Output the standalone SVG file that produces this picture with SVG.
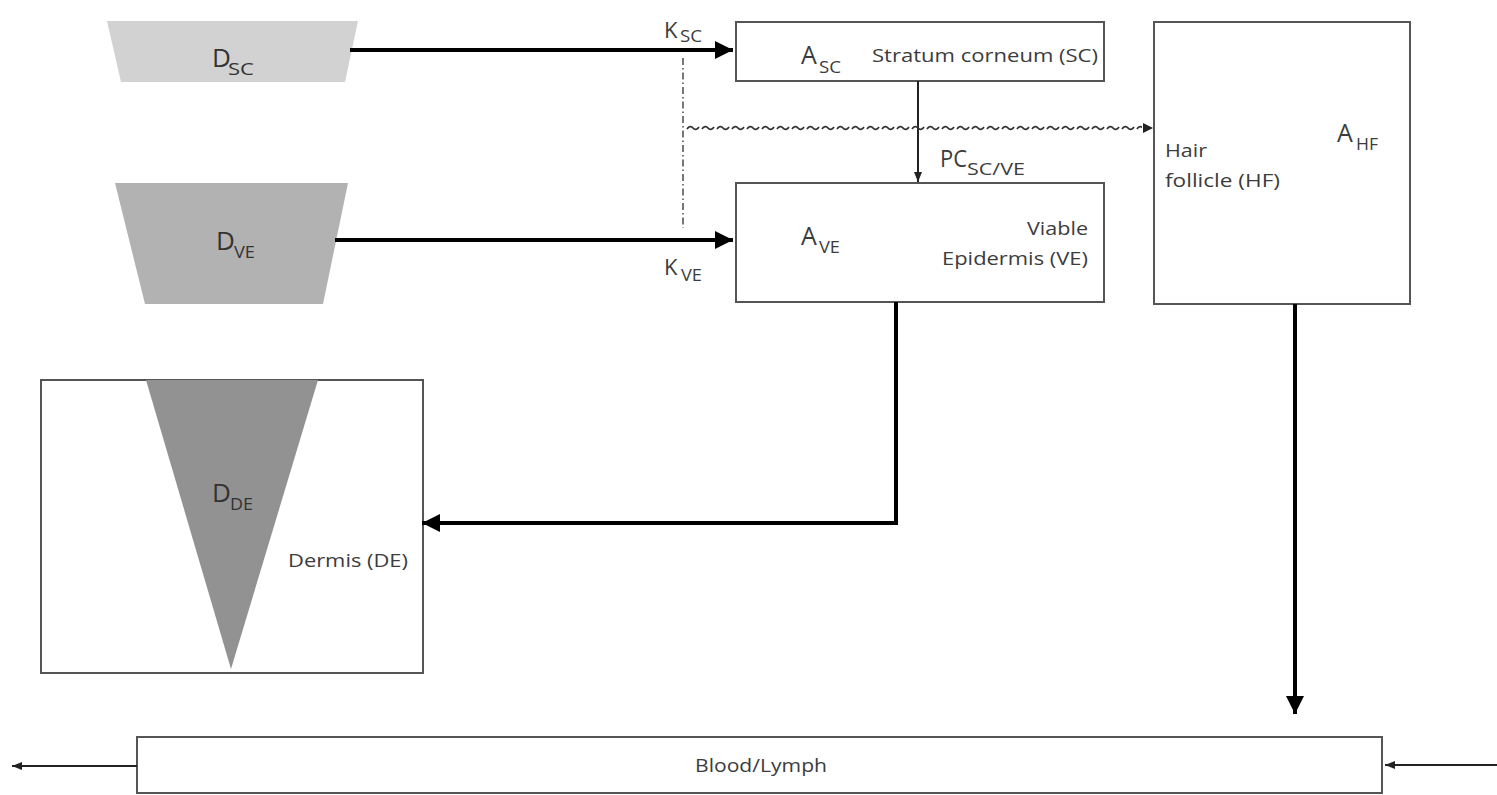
<svg xmlns="http://www.w3.org/2000/svg" width="1497" height="795" viewBox="0 0 1497 795">
  <style>
    .box { fill: #ffffff; stroke: #555555; stroke-width: 2; }
    .lbl { font-family: "Open Sans", "Liberation Sans", sans-serif; fill: #3c3c3c; }
    .main { font-size: 26px; fill: #333333; }
    .msub { font-size: 17px; fill: #333333; }
    .big { font-size: 25px; }
    .sub { font-size: 16px; }
    .name { font-size: 19px; }
    .thick { fill: none; stroke: #000000; stroke-width: 4; }
    .thin { fill: none; stroke: #222222; stroke-width: 2; }
  </style>
  <defs>
    <marker id="headBig" viewBox="0 0 10 10" refX="10" refY="5" markerWidth="4.5" markerHeight="4.5" markerUnits="strokeWidth" orient="auto">
      <path d="M0,0 L10,5 L0,10 Z" fill="#000000"/>
    </marker>
    <marker id="headSmall" viewBox="0 0 10 10" refX="10" refY="5" markerWidth="5" markerHeight="5" markerUnits="strokeWidth" orient="auto">
      <path d="M0,1 L10,5 L0,9 Z" fill="#222222"/>
    </marker>
    <pattern id="tilde" patternUnits="userSpaceOnUse" x="686" y="124" width="15" height="8">
      <path d="M1,5 C3,2 5.5,2 7,4 S11,6 13,3" fill="none" stroke="#333333" stroke-width="1.8"/>
    </pattern>
  </defs>

  <!-- drug source compartments -->
  <g id="d-sc">
    <polygon points="107,21 358,21 345,82 121,82" fill="#d2d2d2"/>
    <text class="lbl main" x="212" y="67">D</text>
    <text class="lbl msub" x="228" y="75" textLength="26" lengthAdjust="spacingAndGlyphs">SC</text>
  </g>
  <g id="d-ve">
    <polygon points="115,183 348,183 323,304 145,304" fill="#b2b2b2"/>
    <text class="lbl main" x="216" y="250">D</text>
    <text class="lbl msub" x="234" y="258" textLength="21" lengthAdjust="spacingAndGlyphs">VE</text>
  </g>

  <!-- skin layers -->
  <g id="stratum-corneum">
    <rect class="box" x="736" y="22" width="368" height="59"/>
    <text class="lbl big" x="801" y="64">A</text>
    <text class="lbl sub" x="819" y="73" textLength="22" lengthAdjust="spacingAndGlyphs">SC</text>
    <text class="lbl name" x="872" y="62" textLength="226" lengthAdjust="spacingAndGlyphs">Stratum corneum (SC)</text>
  </g>
  <g id="viable-epidermis">
    <rect class="box" x="736" y="183" width="368" height="119"/>
    <text class="lbl big" x="801" y="245">A</text>
    <text class="lbl sub" x="819" y="253" textLength="21" lengthAdjust="spacingAndGlyphs">VE</text>
    <text class="lbl name" x="1027" y="235" textLength="61" lengthAdjust="spacingAndGlyphs">Viable</text>
    <text class="lbl name" x="942" y="265" textLength="146" lengthAdjust="spacingAndGlyphs">Epidermis (VE)</text>
  </g>
  <g id="hair-follicle">
    <rect class="box" x="1154" y="22" width="256" height="282"/>
    <text class="lbl big" x="1337" y="142">A</text>
    <text class="lbl sub" x="1356" y="150" textLength="22" lengthAdjust="spacingAndGlyphs">HF</text>
    <text class="lbl name" x="1165" y="157" textLength="42" lengthAdjust="spacingAndGlyphs">Hair</text>
    <text class="lbl name" x="1165" y="187" textLength="115" lengthAdjust="spacingAndGlyphs">follicle (HF)</text>
  </g>
  <g id="dermis">
    <rect class="box" x="41" y="380" width="382" height="293"/>
    <polygon points="146,380 318,380 231,669" fill="#929292"/>
    <text class="lbl main" x="212" y="502">D</text>
    <text class="lbl msub" x="230" y="510" textLength="23" lengthAdjust="spacingAndGlyphs">DE</text>
    <text class="lbl name" x="288" y="567" textLength="120" lengthAdjust="spacingAndGlyphs">Dermis (DE)</text>
  </g>
  <g id="blood-lymph">
    <rect class="box" x="137" y="737" width="1245" height="56"/>
    <text class="lbl" x="695" y="772" font-size="18" textLength="132" lengthAdjust="spacingAndGlyphs">Blood/Lymph</text>
  </g>

  <!-- transfer paths -->
  <g id="connectors">
    <path class="thick" d="M350,50 L733,50" marker-end="url(#headBig)"/>
    <path class="thick" d="M335,240 L733,240" marker-end="url(#headBig)"/>
    <path class="thin" d="M918,81 L918,182" marker-end="url(#headSmall)"/>
    <path class="thick" d="M896,302 L896,523 L422,523" marker-end="url(#headBig)"/>
    <path class="thick" d="M1295,304 L1295,714" marker-end="url(#headBig)"/>
    <path class="thin" d="M137,766 L12,766" marker-end="url(#headSmall)"/>
    <path class="thin" d="M1497,765 L1385,765" marker-end="url(#headSmall)"/>
    <!-- partition boundary -->
    <path d="M683,58 L683,228" fill="none" stroke="#555555" stroke-width="1.6" stroke-dasharray="7 3 1.5 3"/>
    <!-- follicular route -->
    <rect x="686" y="124" width="456" height="8" fill="url(#tilde)"/>
    <path d="M1143,123 L1153,128 L1143,133 Z" fill="#222222"/>
    <text class="lbl" x="664" y="38" font-size="22">K</text>
    <text class="lbl" x="680" y="42" font-size="16" textLength="22" lengthAdjust="spacingAndGlyphs">SC</text>
    <text class="lbl" x="664" y="275" font-size="22">K</text>
    <text class="lbl" x="681" y="281" font-size="16" textLength="21" lengthAdjust="spacingAndGlyphs">VE</text>
    <text class="lbl" x="940" y="167" font-size="23" textLength="27" lengthAdjust="spacingAndGlyphs">PC</text>
    <text class="lbl" x="967" y="175" font-size="16" textLength="58" lengthAdjust="spacingAndGlyphs">SC/VE</text>
  </g>
</svg>
